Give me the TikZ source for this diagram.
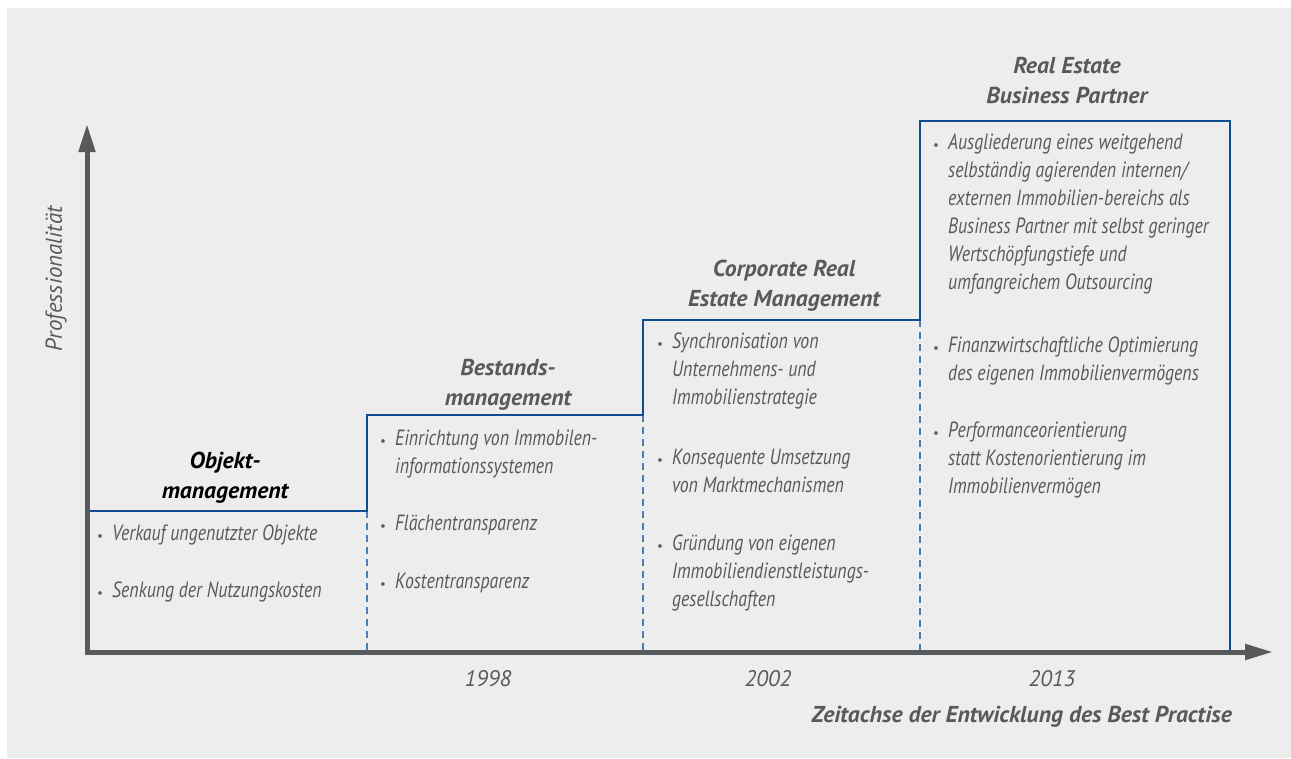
\documentclass[tikz,border=0pt]{standalone}
\usepackage{fontspec}
\setmainfont{PT Sans}
\newfontfamily\condit{PT Sans}[FakeStretch=0.81]
\newfontfamily\headf{PT Sans}[FakeStretch=1.03]
\usetikzlibrary{arrows.meta}
\definecolor{bggray}{HTML}{EDEDED}
\definecolor{txtgray}{HTML}{58595B}
\definecolor{axgray}{HTML}{58595B}
\definecolor{stepblue}{HTML}{0E4C8C}
\definecolor{dashblue}{HTML}{4A7FB5}
\tikzset{
  axisline/.style={draw=axgray, line width=5pt, line join=miter,
    {Triangle[length=28pt,width=16pt]}-{Triangle[length=28pt,width=15pt]}},
  stepline/.style={draw=stepblue, line width=2.6pt, line join=miter},
  divider/.style={draw=dashblue, line width=1.4pt, dash pattern=on 7pt off 5pt},
  item/.style={font=\condit\itshape\fontsize{22}{28}\selectfont, text=txtgray,
    inner sep=0pt, anchor=base west},
  dotmark/.style={font=\fontsize{13}{13}\selectfont, text=txtgray, inner sep=0pt, anchor=base},
  heading/.style={font=\headf\bfseries\itshape\fontsize{23}{30}\selectfont, text=txtgray,
    inner sep=0pt, anchor=base},
  yearlabel/.style={font=\itshape\fontsize{22.5}{24}\selectfont, text=txtgray, inner sep=0pt, anchor=base},
  axislabel/.style={font=\itshape\fontsize{23}{24}\selectfont, text=txtgray, inner sep=0pt},
}
\newcommand{\leftlines}[1]{\begin{tabular}[t]{@{}l@{}}#1\end{tabular}}
\newcommand{\centerlines}[1]{\begin{tabular}[t]{@{}c@{}}#1\end{tabular}}
\newcommand{\bulletitem}[4]{%
  \node[item] (#1) at (#2,#3) {\leftlines{#4}};
  \node[dotmark] (#1d) at ([xshift=-12pt]#1.base west) {•};
}
\begin{document}
\begin{tikzpicture}[x=1pt,y=-1pt]
\useasboundingbox (0,0) rectangle (1291,758);
\fill[white] (0,0) rectangle (1291,758);
\fill[bggray] (7,8) rectangle (1291,758);

% coordinates of the axes and the staircase
\coordinate (ytop) at (87,124);
\coordinate (orig) at (87,652);
\coordinate (xend) at (1273,652);
\coordinate (s0) at (87,511);
\coordinate (s1) at (367,511);
\coordinate (s2) at (367,415);
\coordinate (s3) at (643,415);
\coordinate (s4) at (643,320);
\coordinate (s5) at (920,320);
\coordinate (s6) at (920,121);
\coordinate (s7) at (1230,121);
\coordinate (s8) at (1230,652);
\coordinate (d1) at (367,650);
\coordinate (d2) at (643,650);
\coordinate (d3) at (920,650);

% dashed dividers
\draw[divider] (s1) -- (d1);
\draw[divider] (s3) -- (d2);
\draw[divider] (s5) -- (d3);

% staircase
\draw[stepline] (s0) -- (s1) -- (s2) -- (s3) -- (s4) -- (s5) -- (s6) -- (s7) -- (s8);

% axes
\draw[axisline] (ytop) -- (orig) -- (xend);

% axis labels
\node[axislabel, rotate=90] (ylab) at (56,279) {Professionalität};
\node[heading, anchor=base east] (xlab) at (1232,722) {Zeitachse der Entwicklung des Best Practise};
\node[yearlabel] (y1998) at (488,686) {1998};
\node[yearlabel] (y2002) at (768,686) {2002};
\node[yearlabel] (y2013) at (1052,686) {2013};

% headings
\node[heading, text=black] (h1) at (225,468) {\centerlines{Objekt-\\management}};
\node[heading] (h2) at (508,375) {\centerlines{Bestands-\\management}};
\node[heading] (h3) at (784,276) {\centerlines{Corporate Real\\Estate Management}};
\node[heading] (h4) at (1067,73) {\centerlines{Real Estate\\Business Partner}};

% items: Objektmanagement
\bulletitem{a1}{112}{540}{Verkauf ungenutzter Objekte}
\bulletitem{a2}{112}{597}{Senkung der Nutzungskosten}

% items: Bestandsmanagement
\bulletitem{b1}{395}{445}{Einrichtung von Immobilen-\\informationssystemen}
\bulletitem{b2}{395}{530}{Flächentransparenz}
\bulletitem{b3}{395}{588}{Kostentransparenz}

% items: Corporate Real Estate Management
\bulletitem{c1}{672}{348}{Synchronisation von\\Unternehmens- und\\Immobilienstrategie}
\bulletitem{c2}{672}{464}{Konsequente Umsetzung\\von Marktmechanismen}
\bulletitem{c3}{672}{550}{Gründung von eigenen\\Immobiliendienstleistungs-\\gesellschaften}

% items: Real Estate Business Partner
\bulletitem{e1}{948}{149}{Ausgliederung eines weitgehend\\selbständig agierenden internen/\\externen Immobilien-bereichs als\\Business Partner mit selbst geringer\\Wertschöpfungstiefe und\\umfangreichem Outsourcing}
\bulletitem{e2}{948}{352}{Finanzwirtschaftliche Optimierung\\des eigenen Immobilienvermögens}
\bulletitem{e3}{948}{437}{Performanceorientierung\\statt Kostenorientierung im\\Immobilienvermögen}
\end{tikzpicture}
\end{document}
